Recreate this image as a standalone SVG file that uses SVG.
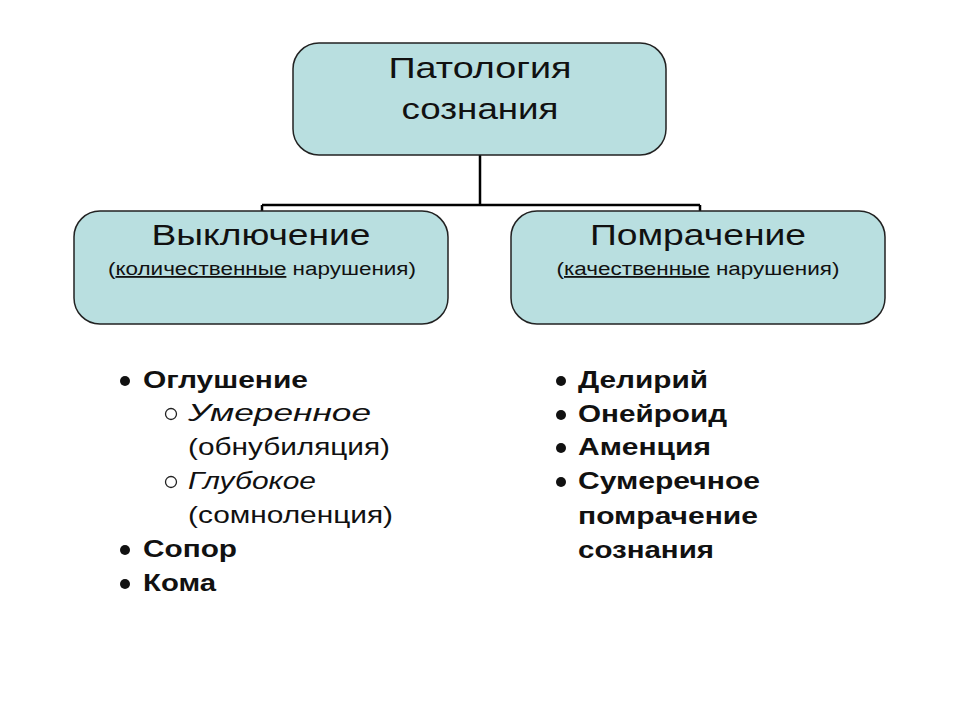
<svg xmlns="http://www.w3.org/2000/svg" width="960" height="720" viewBox="0 0 960 720">
<style>
.box{fill:#b9dfe0;stroke:#222;stroke-width:1.5}
text{font-family:"Liberation Sans",Arial,sans-serif;fill:#111}
.t{font-size:30px;text-anchor:middle}
.s{font-size:18px;text-anchor:middle}
.b{font-size:24px;font-weight:bold}
.n{font-size:24px}
.i{font-size:24px;font-style:italic}
.dot{fill:#111}
.ring{fill:none;stroke:#222;stroke-width:1.3}
</style>
<rect width="960" height="720" fill="#fff"/>
<g id="connectors" stroke="#000" stroke-width="2.5" fill="none">
<path d="M480 155V205M262 205H700M262 205V212M700 205V212"/>
</g>
<g id="root"><rect class="box" x="293" y="43" width="373" height="112" rx="26"/>
<text class="t" x="480" y="78" textLength="183" lengthAdjust="spacingAndGlyphs">Патология</text><text class="t" x="480" y="119" textLength="157" lengthAdjust="spacingAndGlyphs">сознания</text></g>
<g id="left"><rect class="box" x="74" y="211" width="374" height="113" rx="26"/>
<text class="t" x="261" y="245" textLength="219" lengthAdjust="spacingAndGlyphs">Выключение</text>
<text class="s" x="262" y="275" textLength="308" lengthAdjust="spacingAndGlyphs">(<tspan text-decoration="underline">количественные</tspan> нарушения)</text></g>
<g id="right"><rect class="box" x="511" y="211" width="374" height="113" rx="26"/>
<text class="t" x="698" y="245" textLength="216" lengthAdjust="spacingAndGlyphs">Помрачение</text>
<text class="s" x="698" y="275" textLength="283" lengthAdjust="spacingAndGlyphs">(<tspan text-decoration="underline">качественные</tspan> нарушения)</text></g>
<g id="left-list">
<circle class="dot" cx="125" cy="381" r="5"/><text class="b" x="143" y="388" textLength="165" lengthAdjust="spacingAndGlyphs">Оглушение</text>
<circle class="ring" cx="171" cy="414" r="5.5"/><text class="i" x="188" y="421" textLength="183" lengthAdjust="spacingAndGlyphs">Умеренное</text>
<text class="n" x="188" y="455" textLength="202" lengthAdjust="spacingAndGlyphs">(обнубиляция)</text>
<circle class="ring" cx="171" cy="482" r="5.5"/><text class="i" x="188" y="489" textLength="128" lengthAdjust="spacingAndGlyphs">Глубокое</text>
<text class="n" x="188" y="523" textLength="205" lengthAdjust="spacingAndGlyphs">(сомноленция)</text>
<circle class="dot" cx="125" cy="550" r="5"/><text class="b" x="143" y="557" textLength="94" lengthAdjust="spacingAndGlyphs">Сопор</text>
<circle class="dot" cx="125" cy="584" r="5"/><text class="b" x="143" y="591" textLength="73" lengthAdjust="spacingAndGlyphs">Кома</text>
</g>
<g id="right-list">
<circle class="dot" cx="561" cy="381" r="5"/><text class="b" x="578" y="388" textLength="130" lengthAdjust="spacingAndGlyphs">Делирий</text>
<circle class="dot" cx="561" cy="415" r="5"/><text class="b" x="578" y="422" textLength="149" lengthAdjust="spacingAndGlyphs">Онейроид</text>
<circle class="dot" cx="561" cy="448" r="5"/><text class="b" x="578" y="455" textLength="133" lengthAdjust="spacingAndGlyphs">Аменция</text>
<circle class="dot" cx="561" cy="482" r="5"/><text class="b" x="578" y="489" textLength="182" lengthAdjust="spacingAndGlyphs">Сумеречное</text>
<text class="b" x="578" y="524" textLength="180" lengthAdjust="spacingAndGlyphs">помрачение</text>
<text class="b" x="578" y="558" textLength="136" lengthAdjust="spacingAndGlyphs">сознания</text>
</g>
</svg>
